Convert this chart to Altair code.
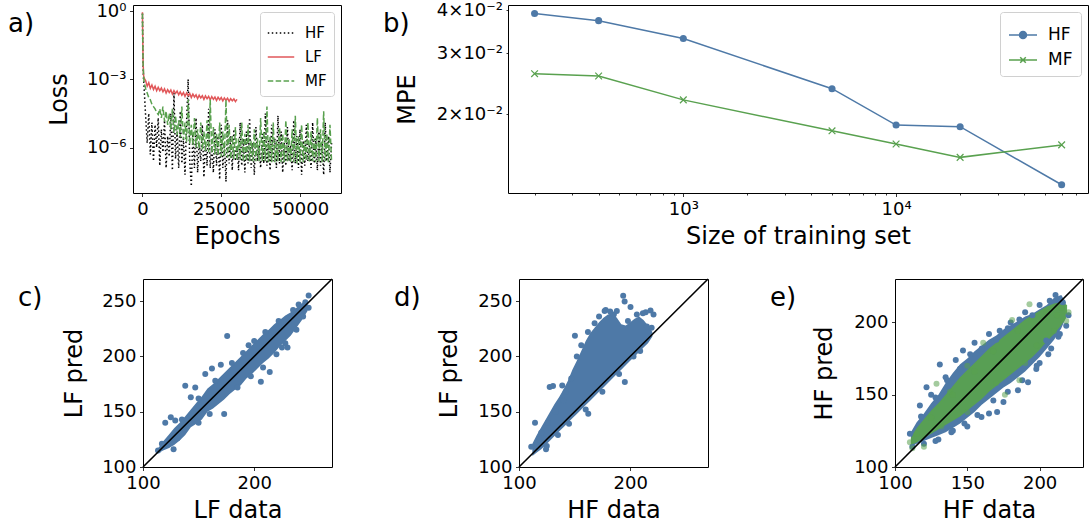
import altair as alt
import pandas as pd

BLUE = "#4e79a7"
GREEN = "#59a14f"
RED = "#e15759"
FONT = "DejaVu Sans"

panel_labels = ["a)", "b)", "c)", "d)", "e)"]

# ---------------- panel a : loss curves (log10 of loss) -------------
head_epochs = [0, 100, 200, 350]
grid_epochs_60k = list(range(500, 60001, 500))
grid_epochs_30k = list(range(500, 30001, 500))

hf_log_head = [-0.1, -1.5, -2.4, -3.0]
hf_log_grid = [
    -3.3, -4.6, -5.8, -4.5, -6.3, -4.9, -6.6, -5.0, -6.0, -4.7,
    -6.8, -5.2, -6.2, -4.8, -6.9, -5.5, -6.4, -4.5, -7.0, -3.6,
    -6.5, -5.3, -6.9, -4.4, -6.7, -5.6, -7.2, -4.9, -3.0, -6.6,
    -7.7, -5.4, -6.9, -4.7, -7.1, -5.8, -6.6, -5.0, -7.3, -5.7,
    -6.8, -4.3, -6.9, -5.9, -7.1, -5.2, -6.8, -5.5, -7.4, -5.0,
    -6.9, -5.8, -7.5, -4.8, -6.7, -5.5, -7.0, -5.2, -6.6, -5.9,
    -7.0, -4.9, -6.8, -5.6, -7.1, -5.3, -6.7, -4.7, -6.9, -5.8,
    -7.2, -5.1, -6.6, -5.9, -6.9, -5.4, -6.7, -4.5, -6.8, -5.7,
    -7.0, -5.0, -6.6, -5.6, -6.9, -4.6, -6.7, -5.3, -7.1, -5.8,
    -6.8, -5.1, -6.6, -5.9, -7.0, -4.8, -6.7, -5.5, -6.9, -5.2,
    -7.2, -5.7, -6.8, -5.0, -6.6, -5.9, -6.9, -4.9, -6.7, -5.6,
    -7.0, -5.3, -6.8, -5.8, -7.2, -4.9, -6.6, -5.5, -7.1, -5.8,
]
lf_log_head = [-0.05, -1.3, -2.2, -2.8]
lf_log_grid = [
    -2.95, -3.05, -3.3, -3.15, -3.4, -3.25, -3.45, -3.3, -3.5, -3.35,
    -3.5, -3.38, -3.55, -3.42, -3.6, -3.45, -3.58, -3.47, -3.65, -3.5,
    -3.62, -3.52, -3.68, -3.55, -3.7, -3.58, -3.75, -3.6, -3.72, -3.62,
    -3.8, -3.65, -3.78, -3.68, -3.85, -3.7, -3.82, -3.72, -3.88, -3.73,
    -3.85, -3.75, -3.9, -3.76, -3.88, -3.78, -3.93, -3.79, -3.9, -3.8,
    -3.95, -3.82, -3.92, -3.83, -3.97, -3.85, -3.94, -3.86, -3.98, -3.88,
]
mf_log_head = [-0.1, -1.4, -2.3, -2.8]
mf_log_grid = [
    -3.1, -3.4, -3.6, -3.8, -3.9, -4.1, -4.2, -4.3, -4.45, -4.55,
    -4.3, -4.7, -4.2, -4.85, -4.4, -5.0, -4.5, -5.2, -4.3, -5.35,
    -4.6, -5.45, -4.8, -5.55, -4.2, -5.65, -4.9, -5.75, -3.9, -5.85,
    -5.0, -5.9, -4.7, -6.0, -5.2, -6.05, -4.9, -6.1, -5.3, -6.15,
    -4.8, -6.2, -3.9, -6.25, -5.1, -6.3, -5.4, -6.35, -4.9, -6.4,
    -5.3, -6.4, -3.9, -6.45, -5.0, -6.5, -5.5, -6.5, -5.1, -6.55,
    -5.6, -6.55, -4.9, -6.6, -5.4, -6.6, -5.0, -6.6, -5.7, -6.6,
    -5.2, -6.6, -5.6, -6.6, -4.7, -6.6, -5.3, -6.6, -4.2, -6.65,
    -5.5, -6.65, -4.9, -6.65, -5.7, -6.6, -5.1, -6.65, -5.4, -6.65,
    -4.8, -6.6, -5.6, -6.65, -5.2, -6.65, -4.6, -6.7, -5.5, -6.65,
    -5.0, -6.65, -5.7, -6.6, -4.9, -6.65, -5.3, -6.6, -5.6, -6.65,
    -4.7, -6.6, -5.2, -6.65, -4.4, -6.6, -5.4, -6.65, -5.0, -6.6,
]
assert len(hf_log_grid) == len(grid_epochs_60k)
assert len(mf_log_grid) == len(grid_epochs_60k)
assert len(lf_log_grid) == len(grid_epochs_30k)

# ---------------- panel b : MPE vs training set size ----------------
b_sizes = [200, 400, 1000, 5000, 10000, 20000, 60000]
b_hf = [0.0391, 0.0373, 0.0331, 0.0237, 0.0186, 0.0184, 0.0125]
b_mf = [0.0262, 0.0258, 0.0220, 0.0179, 0.0164, 0.0150, 0.0163]
b_minor_ticks = [200, 300, 400, 500, 600, 700, 800, 900, 1000,
                 2000, 3000, 4000, 5000, 6000, 7000, 8000, 9000, 10000,
                 20000, 30000, 40000, 50000, 60000, 70000]

# ---------------- panel c : LF pred vs LF data ----------------
c_band_x = [113, 118, 123, 128, 133, 138, 143, 148, 153, 158, 163, 168, 173, 178,
            183, 188, 193, 198, 203, 208, 213, 218, 223, 228, 233, 238, 243, 248]
c_band_lo = [112, 115, 117, 120, 124, 129, 136, 139, 143, 150, 153, 157, 161, 166,
             170, 174, 180, 184, 189, 194, 198, 203, 209, 214, 219, 226, 233, 241]
c_band_up = [116, 123, 129, 135, 140, 146, 152, 158, 164, 171, 175, 180, 185, 190,
             195, 200, 205, 210, 215, 220, 224, 229, 233, 237, 240, 244, 248, 250]
c_pts_x = [175.7, 162, 170, 156, 138, 147, 143, 120, 125, 129, 173, 206, 214, 220, 230,
           249, 249, 246, 127.5, 113.5, 117, 195, 225, 135, 150, 165, 180, 190, 200, 210,
           222, 235, 240, 150, 160, 185, 197, 208, 228, 238, 244, 122, 131, 240]
c_pts_y = [218.4, 189, 192.5, 184, 173.5, 172, 163, 140, 145, 142, 148, 177, 186, 202, 208,
           244, 255, 249, 116, 115, 121, 210, 208, 143, 162, 178, 194, 203, 214, 222,
           232, 242, 247, 140, 148, 172, 182, 190, 212, 224, 236, 120, 126, 236]

# ---------------- panel d : LF pred vs HF data ----------------
d_band_x = [112, 116, 120, 124, 128, 132, 136, 140, 144, 148, 152, 156, 160, 164,
            168, 172, 176, 180, 184, 188, 192, 196, 200, 204, 208, 212, 216, 220]
d_band_up = [121, 129, 136, 143, 150, 157, 163, 170, 178, 188, 196, 205, 214, 221,
             226, 231, 235, 238, 239, 235, 229, 228, 231, 234, 236, 233, 228, 222]
d_band_lo = [110, 113, 116, 120, 124, 128, 132, 136, 140, 144, 148, 152, 156, 160,
             164, 168, 172, 176, 180, 184, 188, 192, 196, 200, 204, 208, 212, 218]
d_pts_x = [150.3, 127.6, 130.6, 138.9, 114.4, 162.3, 195.2, 193.7, 195, 200.3, 218.3, 211.4,
           219.3, 124.3, 111, 185.3, 182, 177, 206, 214, 221, 203, 209, 190, 175, 160, 145,
           135, 125, 118, 120, 126, 133, 140, 142, 147, 152, 156, 162, 168, 172, 178, 188,
           198, 215]
d_pts_y = [218.7, 172.3, 173.2, 173.8, 140, 148.2, 176.8, 254.8, 249.7, 244.6, 241.6, 239,
           225.9, 116, 118.4, 238, 240.5, 241, 238, 240, 238, 200, 205, 184, 168, 152, 139,
           129, 119, 125, 131, 140, 150, 160, 168, 180, 200, 210, 222, 230, 236, 242, 241,
           232, 227]

# ---------------- panel e : HF pred vs HF data (blue: HF model, green: MF model) --------
e_b_x = [111, 115, 120, 125, 130, 135, 140, 145, 150, 155, 160, 165, 170, 175, 180,
         185, 190, 195, 200, 205, 210, 215, 218]
e_b_up = [124, 131, 137, 144, 150, 158, 165, 171, 175, 180, 184, 188, 191, 195, 198,
          201, 204, 206, 209, 212, 217, 219, 214]
e_b_lo = [114, 116, 118, 120, 122, 124, 127, 130, 134, 138, 143, 147, 151, 155, 158,
          162, 166, 171, 176, 182, 188, 196, 203]
e_g_x = [111, 115, 120, 125, 130, 135, 140, 145, 150, 155, 160, 165, 170, 175, 180,
         185, 190, 195, 200, 205, 210, 215, 219]
e_g_up = [120, 127, 133, 139, 144, 150, 156, 162, 167, 172, 177, 182, 186, 190, 194,
          198, 202, 205, 208, 211, 213, 214, 212]
e_g_lo = [115, 117, 120, 123, 126, 129, 132, 135, 139, 143, 147, 152, 156, 160, 164,
          168, 172, 176, 181, 187, 192, 198, 204]
e_bp_x = [147, 131, 121.8, 117.2, 170.6, 159.8, 139, 172.4, 211, 218.4, 204.6, 197.7, 192,
          110.3, 125, 135, 142, 155, 165, 180, 190, 200, 207, 216, 220, 213, 206, 200, 185,
          175, 165, 150, 128, 120, 112,
          118, 128, 136, 145, 152, 160, 170, 178, 186, 195,
          130, 140, 148, 157, 168, 178, 188, 198, 208, 214]
e_bp_y = [180.5, 170.8, 155.2, 142.5, 138, 134.5, 124, 194.3, 219, 197.7, 187.4, 167.8, 158.6,
          123, 150, 162, 174, 186, 192, 200, 207, 212, 215, 214, 205, 190, 178, 172, 153,
          145, 137, 128, 118, 116, 114,
          135, 148, 160, 168, 178, 182, 188, 196, 202, 205,
          119, 125, 130, 136, 146, 152, 160, 170, 182, 192]
e_gp_x = [193, 218.4, 110.3, 128.7, 161, 181, 215, 220, 112, 120, 138, 150, 176, 198, 186,
          115, 125, 140, 155, 168, 185, 205, 212, 132, 150, 170, 190, 210]
e_gp_y = [212.6, 201, 117.2, 157.5, 186, 201.6, 210, 207, 113, 114, 152, 170, 150, 184, 160,
          123, 134, 150, 166, 180, 194, 207, 205, 128, 138, 158, 172, 194]

diag_cd = [100, 270]
diag_e = [100, 230]

# =====================================================================================
def panel_label(text):
    return alt.Chart(pd.DataFrame({"t": [text]})).mark_text(
        align="left", baseline="middle", fontSize=26, font=FONT, color="black"
    ).encode(text="t:N", x=alt.value(-125), y=alt.value(19))


# ---- a ----
rows = []
for name, head, grid, epochs in [("HF", hf_log_head, hf_log_grid, grid_epochs_60k),
                                 ("LF", lf_log_head, lf_log_grid, grid_epochs_30k),
                                 ("MF", mf_log_head, mf_log_grid, grid_epochs_60k)]:
    for e, v in zip(head_epochs + epochs, head + grid):
        rows.append({"epoch": e, "loss": 10 ** v, "series": name})
df_a = pd.DataFrame(rows)

leg_a = alt.Legend(orient="top-right", offset=7, fillColor="white", strokeColor="#d0d0d0",
                   cornerRadius=3, padding=7, labelFontSize=15, symbolStrokeWidth=1.5,
                   symbolSize=700, rowPadding=2, labelOffset=10, symbolType="stroke")

lines_a = alt.Chart(df_a).mark_line(strokeWidth=1.5, clip=True).encode(
    x=alt.X("epoch:Q", scale=alt.Scale(domain=[-3000, 63000], nice=False, zero=False),
            axis=alt.Axis(values=[0, 25000, 50000], format="d", title="Epochs", titlePadding=6)),
    y=alt.Y("loss:Q", scale=alt.Scale(type="log", domain=[1e-8, 1.86], nice=False),
            axis=alt.Axis(values=[1, 1e-3, 1e-6], title="Loss", titlePadding=15,
                          labelExpr="datum.value > 0.5 ? '10⁰' : (datum.value > 0.0005 ? '10⁻³' : '10⁻⁶')")),
    color=alt.Color("series:N", title=None,
                    scale=alt.Scale(domain=["HF", "LF", "MF"], range=["black", RED, GREEN]),
                    legend=leg_a),
    strokeDash=alt.StrokeDash("series:N", title=None,
                              scale=alt.Scale(domain=["HF", "LF", "MF"],
                                              range=[[1.5, 2.5], [1, 0], [5.5, 2.4]]),
                              legend=leg_a),
)
chart_a = alt.layer(lines_a, panel_label(panel_labels[0])).properties(width=208, height=188)

# ---- b ----
df_b = pd.DataFrame({
    "size": b_sizes + b_sizes,
    "mpe": b_hf + b_mf,
    "series": ["HF"] * len(b_sizes) + ["MF"] * len(b_sizes),
})
bx = alt.X("size:Q", scale=alt.Scale(type="log", domain=[150, 79800], nice=False),
           axis=alt.Axis(values=b_minor_ticks, title="Size of training set", titlePadding=6,
                         tickSize={"condition": {"test": "datum.value == 1000 || datum.value == 10000",
                                                 "value": 3.5}, "value": 2},
                         labelExpr="datum.value == 1000 ? '10³' : (datum.value == 10000 ? '10⁴' : '')"))
by = alt.Y("mpe:Q", scale=alt.Scale(type="log", domain=[0.01183, 0.0414], nice=False),
           axis=alt.Axis(values=[0.02, 0.03, 0.04], title="MPE", titlePadding=17, tickSize=2,
                         labelExpr="datum.value < 0.025 ? '2×10⁻²' : (datum.value < 0.035 ? '3×10⁻²' : '4×10⁻²')"))
base_b = alt.Chart(df_b).encode(x=bx, y=by)
hf_line = base_b.transform_filter("datum.series == 'HF'").mark_line(color=BLUE, strokeWidth=1.5)
mf_line = base_b.transform_filter("datum.series == 'MF'").mark_line(color=GREEN, strokeWidth=1.5)
hf_pts = base_b.transform_filter("datum.series == 'HF'").mark_point(
    shape="circle", filled=True, size=50, color=BLUE, opacity=1)
X_SHAPE = "M-1,-1L1,1M-1,1L1,-1"
mf_pts = base_b.transform_filter("datum.series == 'MF'").mark_point(
    shape=X_SHAPE, filled=False, size=45, color=GREEN, opacity=1, strokeWidth=1.2)

HF_SYM = "M-1,0L1,0M-0.25,0A0.25,0.25,0,1,1,0.25,0A0.25,0.25,0,1,1,-0.25,0Z"
MF_SYM = "M-1,0L1,0M-0.2,-0.2L0.2,0.2M-0.2,0.2L0.2,-0.2"
leg_b = alt.Legend(orient="top-right", offset=7, fillColor="white", strokeColor="#d0d0d0",
                   cornerRadius=3, padding=8, labelFontSize=17, symbolSize=784,
                   symbolStrokeWidth=1.5, rowPadding=2, labelOffset=10)
legend_layer = base_b.transform_filter("false").mark_point(filled=True, opacity=1, strokeWidth=1.5).encode(
    color=alt.Color("series:N", title=None, scale=alt.Scale(domain=["HF", "MF"], range=[BLUE, GREEN]), legend=leg_b),
    stroke=alt.Stroke("series:N", title=None, scale=alt.Scale(domain=["HF", "MF"], range=[BLUE, GREEN]), legend=leg_b),
    shape=alt.Shape("series:N", title=None, scale=alt.Scale(domain=["HF", "MF"], range=[HF_SYM, MF_SYM]), legend=leg_b),
)
chart_b = alt.layer(hf_line, mf_line, hf_pts, mf_pts, legend_layer,
                    panel_label(panel_labels[1])).properties(width=580, height=188)


# ---- scatter panels ----
def scatter_panel(bands, points, diag, ticks_x, ticks_y, xtitle, ytitle, label, tp, w):
    lo_, hi_ = diag
    xs = alt.Scale(domain=[lo_, hi_], nice=False, zero=False)
    ys = alt.Scale(domain=[lo_, hi_], nice=False, zero=False)
    xa = alt.Axis(values=ticks_x, title=xtitle, titlePadding=6)
    ya = alt.Axis(values=ticks_y, title=ytitle, titlePadding=tp)
    layers = []
    for (bx_, blo, bup, col, op) in bands:
        dfb = pd.DataFrame({"x": bx_, "lo": blo, "up": bup})
        layers.append(alt.Chart(dfb).mark_area(color=col, opacity=op).encode(
            x=alt.X("x:Q", scale=xs, axis=xa), y=alt.Y("lo:Q", scale=ys, axis=ya), y2="up:Q"))
    for (px, py, col, op) in points:
        dfp = pd.DataFrame({"x": px, "y": py})
        layers.append(alt.Chart(dfp).mark_circle(size=36, color=col, opacity=op).encode(
            x=alt.X("x:Q", scale=xs, axis=xa), y=alt.Y("y:Q", scale=ys, axis=ya)))
    dfd = pd.DataFrame({"x": diag, "y": diag})
    layers.append(alt.Chart(dfd).mark_line(color="black", strokeWidth=1.6).encode(
        x=alt.X("x:Q", scale=xs, axis=xa), y=alt.Y("y:Q", scale=ys, axis=ya)))
    layers.append(panel_label(label))
    return alt.layer(*layers).properties(width=w, height=188)


chart_c = scatter_panel([(c_band_x, c_band_lo, c_band_up, BLUE, 1)],
                        [(c_pts_x, c_pts_y, BLUE, 1)],
                        diag_cd, [100, 200], [100, 150, 200, 250], "LF data", "LF pred",
                        panel_labels[2], 15, 189)
chart_d = scatter_panel([(d_band_x, d_band_lo, d_band_up, BLUE, 1)],
                        [(d_pts_x, d_pts_y, BLUE, 1)],
                        diag_cd, [100, 200], [100, 150, 200, 250], "HF data", "LF pred",
                        panel_labels[3], 16, 189)
chart_e = scatter_panel([(e_b_x, e_b_lo, e_b_up, BLUE, 1), (e_g_x, e_g_lo, e_g_up, GREEN, 0.95)],
                        [(e_bp_x, e_bp_y, BLUE, 1), (e_gp_x, e_gp_y, GREEN, 0.55)],
                        diag_e, [100, 150, 200], [100, 150, 200], "HF data", "HF pred",
                        panel_labels[4], 17, 188)

spacer = alt.Chart(pd.DataFrame({"v": [0]})).mark_point(opacity=0).encode(
    x=alt.X("v:Q", axis=None), y=alt.Y("v:Q", axis=None)
).properties(width=10, height=188, view=alt.ViewBackground(stroke="transparent"))

resolve_kw = dict(color="independent", strokeDash="independent", shape="independent",
                  stroke="independent")

top = alt.hconcat(chart_a, chart_b, spacing=167, bounds="flush").resolve_scale(**resolve_kw)
bottom_inner = alt.hconcat(chart_c, chart_d, chart_e, spacing=187, bounds="flush")
bottom = alt.hconcat(spacer, bottom_inner, spacing=0, bounds="flush")

chart = alt.vconcat(top, bottom, spacing=26, bounds="full").resolve_scale(
    **resolve_kw
).properties(
    padding={"left": 7, "top": 0, "right": 0, "bottom": 0},
    background="white",
).configure(font=FONT).configure_axis(
    labelFont=FONT, labelFontSize=18, titleFont=FONT, titleFontSize=24,
    titleFontWeight="normal", labelColor="black", titleColor="black",
    tickColor="black", tickWidth=0.8, tickSize=3.5, labelPadding=3.5,
    domain=False, grid=False, labelFlush=False, labelOverlap=False,
).configure_view(stroke="black", strokeWidth=1).configure_legend(
    labelFont=FONT, labelColor="black",
)

chart.save("out.html", embed_options={"renderer": "svg", "actions": False})
